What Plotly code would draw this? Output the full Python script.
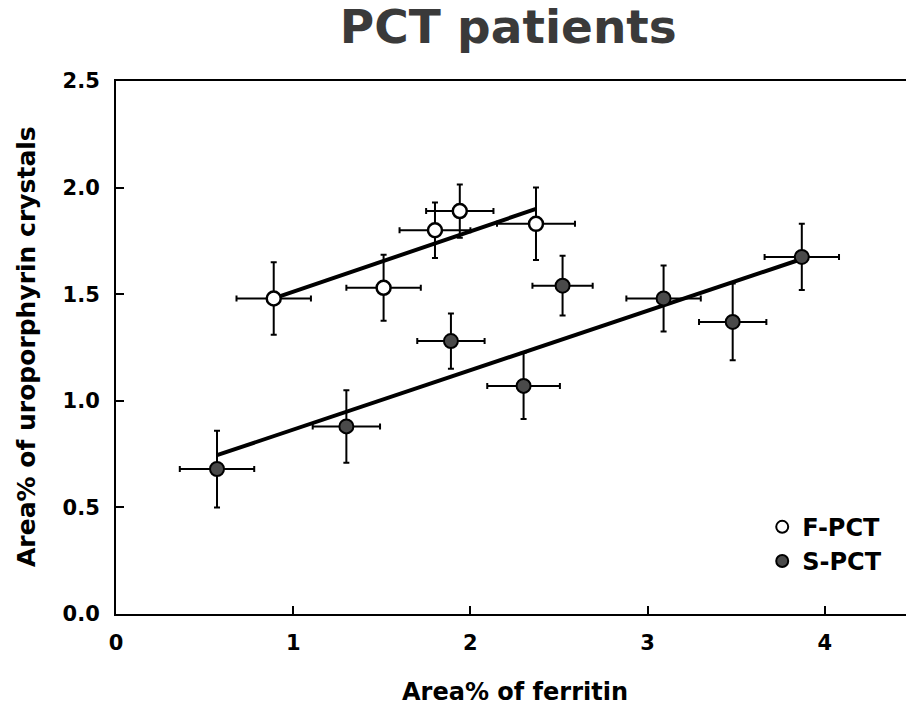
import plotly.graph_objects as go

# F-PCT (open circles)
fpct_x = [0.89, 1.51, 1.80, 1.94, 2.37]
fpct_y = [1.48, 1.53, 1.80, 1.89, 1.83]
fpct_xerr = [0.21, 0.21, 0.20, 0.19, 0.22]
fpct_yerr = [0.17, 0.155, 0.13, 0.125, 0.17]

# S-PCT (filled circles)
spct_x = [0.57, 1.30, 1.89, 2.30, 2.52, 3.09, 3.48, 3.87]
spct_y = [0.68, 0.88, 1.28, 1.07, 1.54, 1.48, 1.37, 1.675]
spct_xerr = [0.21, 0.19, 0.19, 0.205, 0.17, 0.21, 0.19, 0.21]
spct_yerr = [0.18, 0.17, 0.13, 0.155, 0.14, 0.155, 0.18, 0.155]

# regression lines (endpoints)
fpct_fit_x = [0.89, 2.37]
fpct_fit_y = [1.48, 1.90]
spct_fit_x = [0.57, 3.87]
spct_fit_y = [0.745, 1.665]

xticks = [0, 1, 2, 3, 4]
yticks = [0.0, 0.5, 1.0, 1.5, 2.0, 2.5]

FONT = "DejaVu Sans"

fig = go.Figure()

fig.add_trace(go.Scatter(x=fpct_fit_x, y=fpct_fit_y, mode="lines",
                         line=dict(color="black", width=4), showlegend=False))
fig.add_trace(go.Scatter(x=spct_fit_x, y=spct_fit_y, mode="lines",
                         line=dict(color="black", width=4), showlegend=False))

fig.add_trace(go.Scatter(
    x=fpct_x, y=fpct_y, mode="markers", name="<b>F-PCT</b>",
    marker=dict(symbol="circle", size=14, color="white",
                line=dict(color="black", width=2.5)),
    error_x=dict(type="data", array=fpct_xerr, color="black", thickness=2, width=3),
    error_y=dict(type="data", array=fpct_yerr, color="black", thickness=2, width=3),
))
fig.add_trace(go.Scatter(
    x=spct_x, y=spct_y, mode="markers", name="<b>S-PCT</b>",
    marker=dict(symbol="circle", size=14, color="#4a4a4a",
                line=dict(color="black", width=2)),
    error_x=dict(type="data", array=spct_xerr, color="black", thickness=2, width=3),
    error_y=dict(type="data", array=spct_yerr, color="black", thickness=2, width=3),
))

fig.update_layout(
    width=906, height=710,
    margin=dict(l=116, r=0, t=81, b=96),
    paper_bgcolor="white", plot_bgcolor="white",
    font=dict(family=FONT, color="black"),
    title=dict(text="<b>PCT patients</b>", x=0.561, xanchor="center",
               y=0.962, yanchor="middle",
               font=dict(family=FONT, size=47, color="#3a3a3a")),
    legend=dict(x=0.818, y=0.205, xanchor="left", yanchor="top",
                bgcolor="rgba(0,0,0,0)", itemsizing="constant",
                font=dict(family=FONT, size=24, color="black"),
                tracegroupgap=4),
    showlegend=True,
)

fig.update_xaxes(range=[0, 4.458], tickvals=xticks, ticktext=[f"<b>{v}</b>" for v in xticks],
                 showline=True, linecolor="black", linewidth=2, mirror=True,
                 ticks="inside", ticklen=8, tickwidth=2, tickcolor="black",
                 showgrid=False, zeroline=False, ticklabelstandoff=9,
                 tickfont=dict(family=FONT, size=21, color="black"))
fig.update_yaxes(range=[0, 2.5], tickvals=yticks, ticktext=[f"<b>{v:.1f}</b>" for v in yticks],
                 showline=True, linecolor="black", linewidth=2, mirror=False,
                 ticks="inside", ticklen=8, tickwidth=2, tickcolor="black",
                 showgrid=False, zeroline=False, ticklabelstandoff=10,
                 tickfont=dict(family=FONT, size=21, color="black"))

fig.add_annotation(text="<b>Area% of ferritin</b>", xref="paper", yref="paper",
                   x=(515 - 116) / 790, y=-(692 - 614) / 533, xanchor="center", yanchor="middle",
                   showarrow=False, font=dict(family=FONT, size=24, color="black"))
fig.add_annotation(text="<b>Area% of uroporphyrin crystals</b>", xref="paper", yref="paper",
                   x=-(116 - 26) / 790, y=(614 - 347) / 533, xanchor="center", yanchor="middle",
                   textangle=-90, showarrow=False,
                   font=dict(family=FONT, size=25, color="black"))

fig.write_html("out.html")
